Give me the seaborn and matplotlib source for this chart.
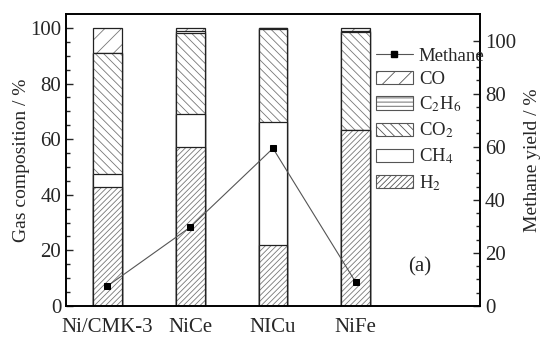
import numpy as np
import matplotlib
matplotlib.use("Agg")
import matplotlib.pyplot as plt
from matplotlib.patches import Patch
from matplotlib.lines import Line2D
import seaborn as sns

# ---- data ----
categories = ["Ni/CMK-3", "NiCe", "NICu", "NiFe"]
h2 = [42.8, 57.0, 21.8, 63.4]
ch4 = [4.6, 12.0, 44.3, 0.0]
co2 = [43.6, 29.3, 33.5, 35.0]
c2h6 = [0.0, 0.7, 0.2, 0.6]
co = [9.0, 1.0, 0.2, 1.0]
methane_yield = [7.5, 29.7, 59.4, 8.9]

components = ["H2", "CH4", "CO2", "C2H6", "CO"]
comp_values = [h2, ch4, co2, c2h6, co]
comp_labels = ["H$_2$", "CH$_4$", "CO$_2$", "C$_2$H$_6$", "CO"]
comp_hatch = ["//////", "", "\\\\\\\\", "----", "//"]

sns.set_style("ticks")
plt.rcParams["font.family"] = ["Liberation Serif", "DejaVu Serif"]
plt.rcParams["mathtext.fontset"] = "stix"
plt.rcParams["hatch.linewidth"] = 0.6

fig = plt.figure(figsize=(5.42, 3.38), dpi=100)
ax = fig.add_axes([66/542, 32/338, 414/542, 292/338])

pos = np.arange(len(categories))
cum = np.cumsum(np.array(comp_values), axis=0)

# draw cumulative stacks from top to bottom so each lower segment covers the one above
for i in range(len(components) - 1, -1, -1):
    sns.barplot(x=pos, y=cum[i], ax=ax, native_scale=True, width=0.35,
                color="white", facecolor="white", edgecolor="#777777",
                linewidth=0, hatch=comp_hatch[i], errorbar=None)
    sns.barplot(x=pos, y=cum[i], ax=ax, native_scale=True, width=0.35,
                fill=False, edgecolor="#222222", linewidth=0.9, errorbar=None)

ax.set_xlim(-0.5, 4.5)
ax.set_ylim(0, 105)
ax.set_xticks(pos)
ax.set_xticklabels(categories, fontsize=15)
ax.set_yticks(np.arange(0, 101, 20))
ax.set_yticks(np.arange(0, 101, 5), minor=True)
ax.tick_params(axis="y", which="major", direction="in", length=5, width=1.0, labelsize=15)
ax.tick_params(axis="y", which="minor", direction="in", length=3, width=1.0)
ax.tick_params(axis="x", length=0, pad=9)
ax.set_ylabel("Gas composition / %", fontsize=14, labelpad=0)
ax.set_xlabel("")

ax2 = ax.twinx()
sns.lineplot(x=pos, y=methane_yield, ax=ax2, color="#555555", linewidth=0.8,
             marker="s", markersize=5, markerfacecolor="black",
             markeredgecolor="black", sort=False)
ax2.set_ylim(0, 110)
ax2.set_yticks(np.arange(0, 101, 20))
ax2.set_yticks(np.arange(0, 101, 5), minor=True)
ax2.tick_params(axis="y", which="major", direction="in", length=5, width=1.0, labelsize=15)
ax2.tick_params(axis="y", which="minor", direction="in", length=3, width=1.0)
ax2.set_ylabel("Methane yield / %", fontsize=14, labelpad=6)

for a in (ax, ax2):
    for s in a.spines.values():
        s.set_linewidth(1.2)
        s.set_color("black")

ax2.text(0.855, 0.135, "(a)", transform=ax.transAxes, fontsize=15,
         ha="center", va="center")

handles = [Line2D([], [], color="#555555", linewidth=0.8, marker="s",
                  markersize=5, markerfacecolor="black", markeredgecolor="black")]
labels = ["Methane"]
for i in range(len(components) - 1, -1, -1):
    handles.append(Patch(facecolor="white", edgecolor="#555555", linewidth=0.8,
                         hatch=comp_hatch[i]))
    labels.append(comp_labels[i])
ax2.legend(handles, labels, loc="upper left", bbox_to_anchor=(0.748, 0.885),
           frameon=False, fontsize=13.5, handlelength=2.0, handleheight=0.7,
           handletextpad=0.3, labelspacing=0.34, borderaxespad=0, borderpad=0)

fig.savefig("out.png", dpi=100)
